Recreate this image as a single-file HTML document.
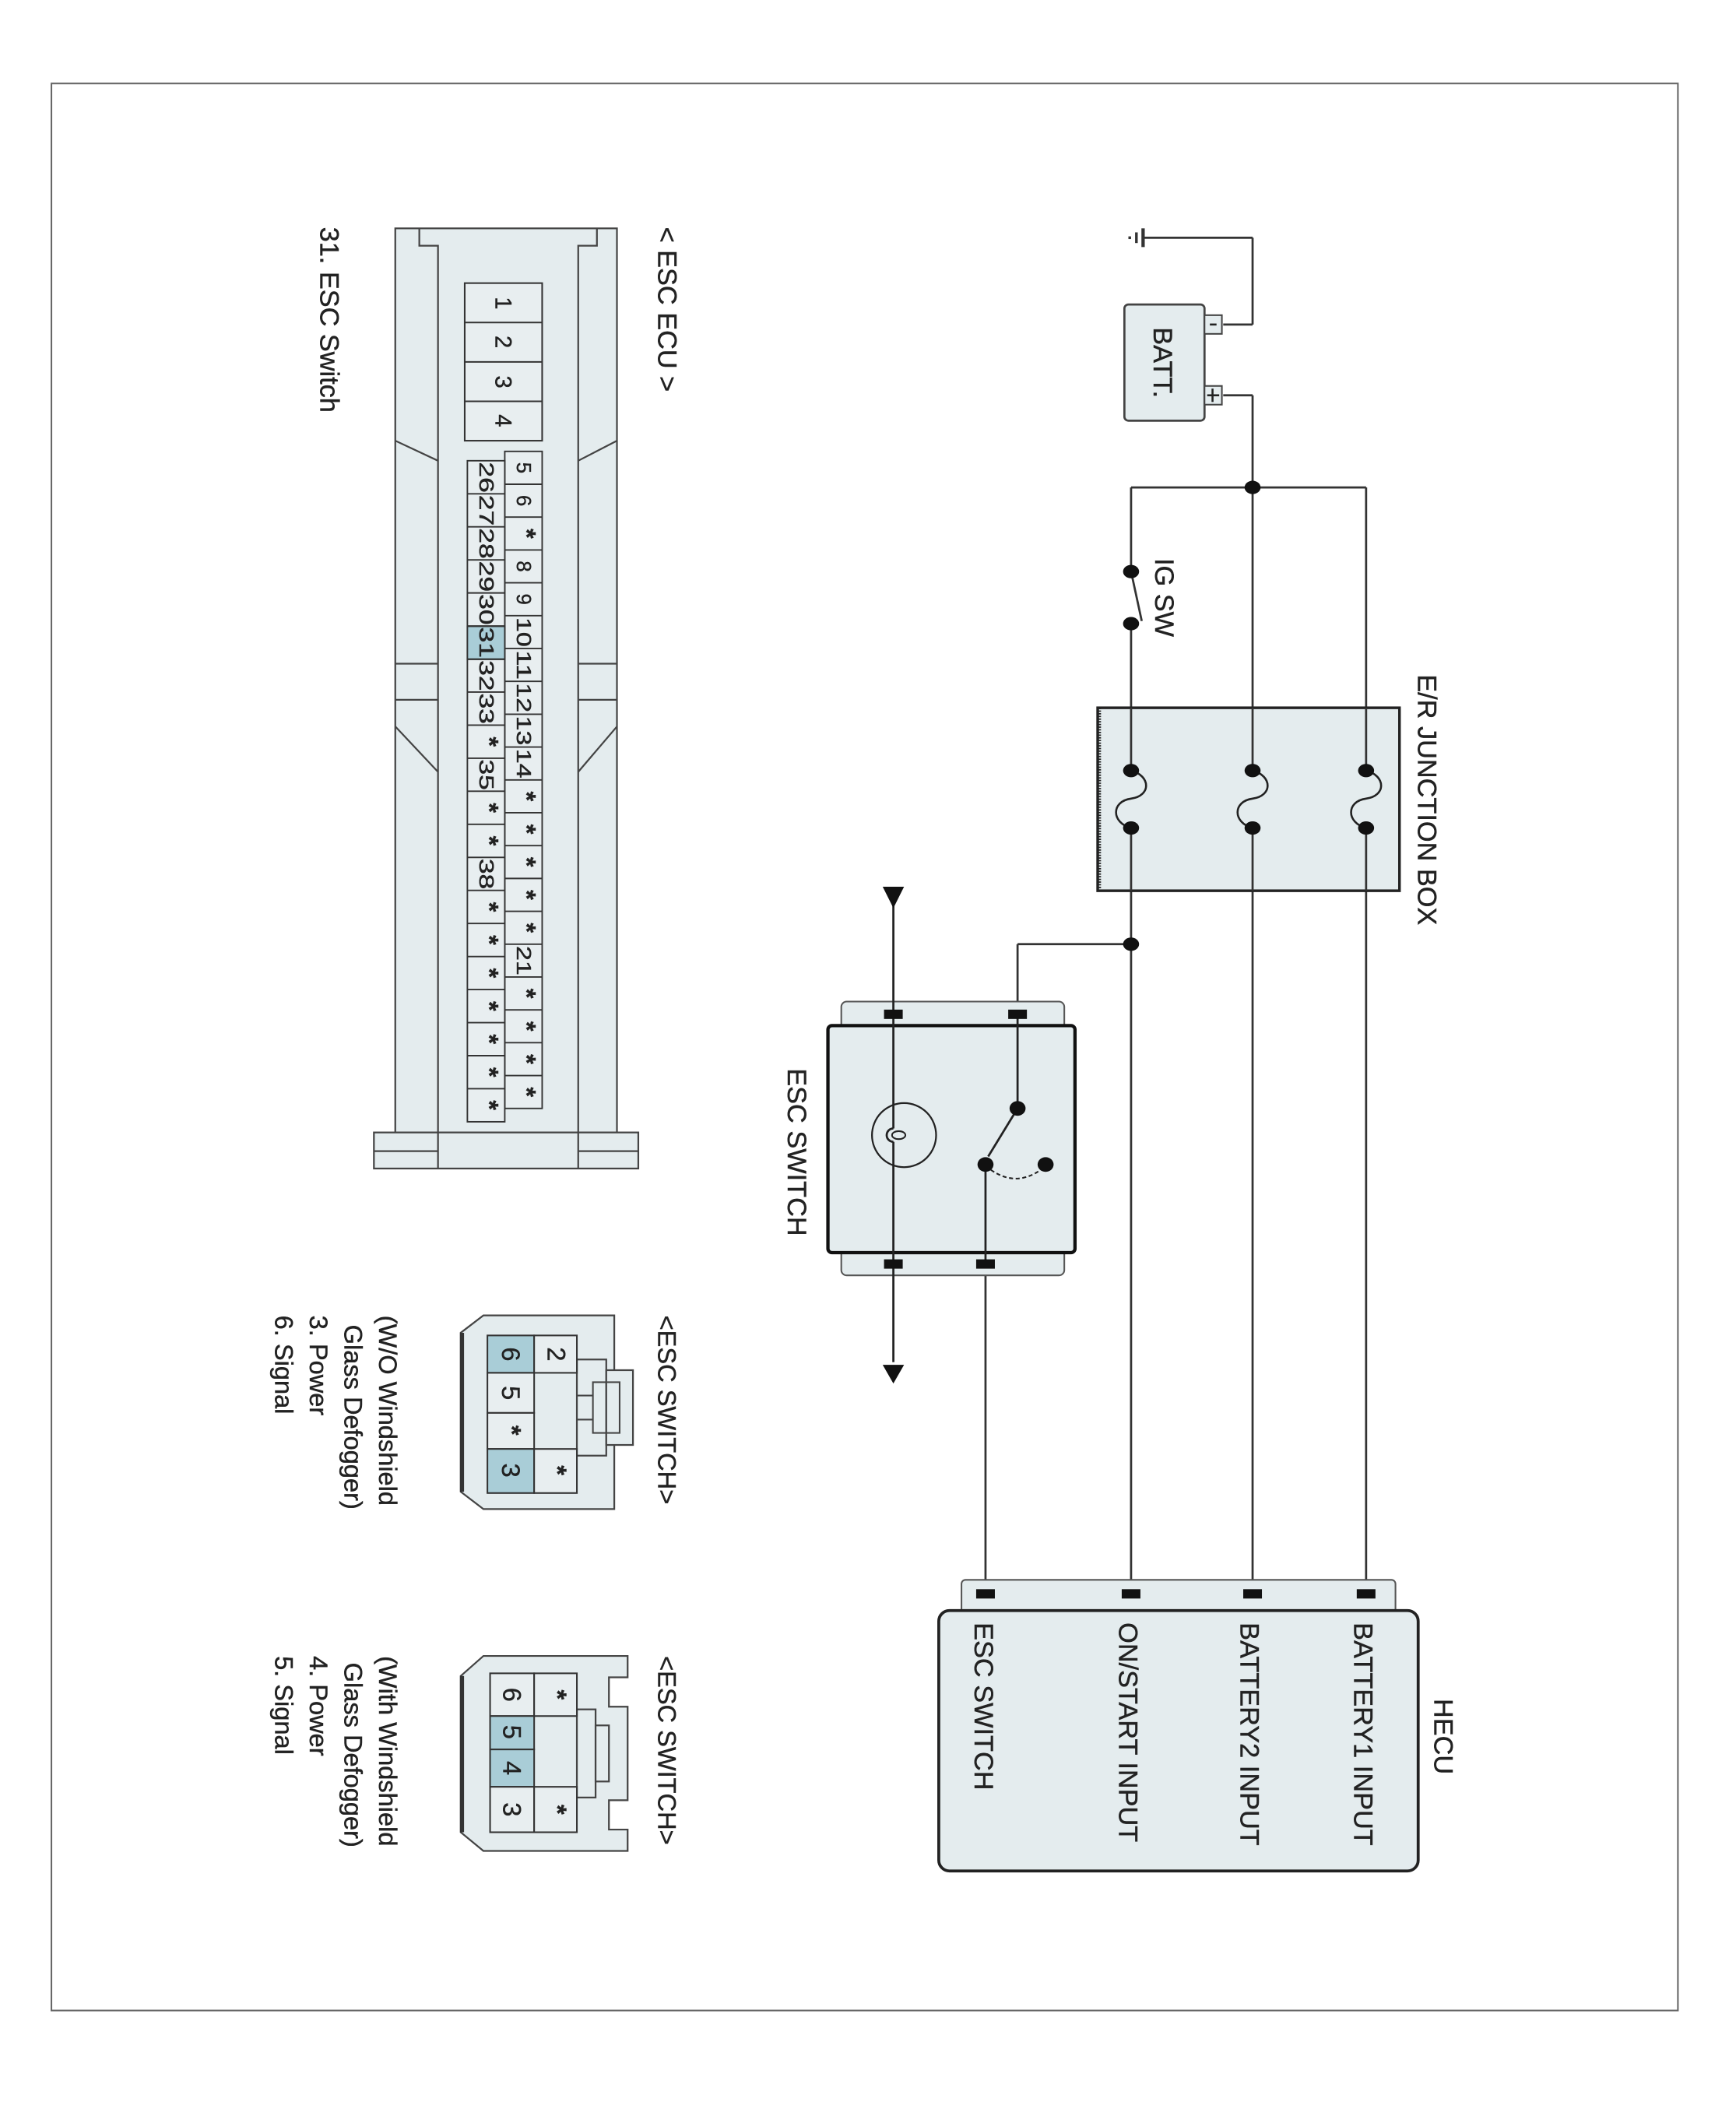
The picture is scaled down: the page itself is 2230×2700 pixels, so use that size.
<!DOCTYPE html>
<html><head><meta charset="utf-8"><style>
html,body{margin:0;padding:0;background:#fff;}
svg{display:block;}
text{font-family:"Liberation Sans",sans-serif;fill:#222;stroke:#222;stroke-width:0.25;}
.st{font-weight:bold;font-size:19px;}
</style></head><body>
<svg width="2230" height="2700" viewBox="0 0 1300 1574" preserveAspectRatio="none" xmlns="http://www.w3.org/2000/svg">
<rect x="0" y="0" width="1300" height="1574" fill="#fff"/>
<rect x="38.5" y="62.5" width="1218" height="1443" fill="none" stroke="#666" stroke-width="1.2"/>

<g stroke="#333" stroke-width="1.6" fill="none">
  <line x1="856" y1="178" x2="938" y2="178"/>
  <line x1="856" y1="171" x2="856" y2="185" stroke-width="2.5"/>
  <line x1="851" y1="174" x2="851" y2="182" stroke-width="2"/>
  <line x1="846" y1="177" x2="846" y2="179" stroke-width="2"/>
  <line x1="938" y1="178" x2="938" y2="243"/>
  <line x1="916" y1="243" x2="938" y2="243"/>
  <line x1="916" y1="296" x2="938" y2="296"/>
  <line x1="938" y1="296" x2="938" y2="1190"/>
  <line x1="847" y1="365" x2="1023" y2="365"/>
  <line x1="847" y1="365" x2="847" y2="428"/>
  <line x1="847" y1="428" x2="855" y2="465"/>
  <line x1="847" y1="467" x2="847" y2="1190"/>
  <line x1="1023" y1="365" x2="1023" y2="1190"/>
  <line x1="762" y1="707" x2="847" y2="707"/>
  <line x1="762" y1="707" x2="762" y2="759"/>
  <line x1="738" y1="946" x2="738" y2="1190"/>
</g>

<rect x="842" y="228" width="60" height="87" rx="3" fill="#e4ecee" stroke="#444" stroke-width="1.6"/>
<rect x="902" y="236" width="13" height="14" fill="#e4ecee" stroke="#444" stroke-width="1.2"/>
<rect x="902" y="289" width="13" height="14" fill="#e4ecee" stroke="#444" stroke-width="1.2"/>
<line x1="906" y1="243" x2="911" y2="243" stroke="#222" stroke-width="1.5"/>
<line x1="904" y1="296" x2="913" y2="296" stroke="#222" stroke-width="1.5"/>
<line x1="908" y1="291" x2="908" y2="301" stroke="#222" stroke-width="1.5"/>
<text transform="translate(864,245) rotate(90)" font-size="20">BATT.</text>

<g fill="#111">
  <ellipse cx="938" cy="365" rx="6" ry="5"/>
  <ellipse cx="847" cy="428" rx="6" ry="5"/>
  <ellipse cx="847" cy="467" rx="6" ry="5"/>
  <ellipse cx="847" cy="707" rx="6" ry="5"/>
</g>
<text transform="translate(865,418) rotate(90)" font-size="20">IG SW</text>

<rect x="822" y="530" width="226" height="137" fill="#e4ecee" stroke="#222" stroke-width="2"/>
<line x1="823" y1="530" x2="823" y2="667" stroke="#222" stroke-width="3" stroke-dasharray="1 1"/>
<g stroke="#333" stroke-width="1.6" fill="none">
  <line x1="847" y1="530" x2="847" y2="667"/>
  <line x1="938" y1="530" x2="938" y2="667"/>
  <line x1="1023" y1="530" x2="1023" y2="667"/>
</g>
<g fill="#e4ecee" stroke="#e4ecee" stroke-width="3">
  <line x1="847" y1="580" x2="847" y2="617"/>
  <line x1="938" y1="580" x2="938" y2="617"/>
  <line x1="1023" y1="580" x2="1023" y2="617"/>
</g>
<g stroke="#222" stroke-width="1.5" fill="none">
  <path d="M847,577 C862,581 862,596 847,598 C832,600 832,616 847,620"/>
  <path d="M938,577 C953,581 953,596 938,598 C923,600 923,616 938,620"/>
  <path d="M1023,577 C1038,581 1038,596 1023,598 C1008,600 1008,616 1023,620"/>
</g>
<g fill="#111">
  <ellipse cx="847" cy="577" rx="6" ry="5"/><ellipse cx="847" cy="620" rx="6" ry="5"/>
  <ellipse cx="938" cy="577" rx="6" ry="5"/><ellipse cx="938" cy="620" rx="6" ry="5"/>
  <ellipse cx="1023" cy="577" rx="6" ry="5"/><ellipse cx="1023" cy="620" rx="6" ry="5"/>
</g>
<text transform="translate(1062,505) rotate(90)" font-size="20">E/R JUNCTION BOX</text>

<rect x="630" y="750" width="167" height="205" rx="4" fill="#e4ecee" stroke="#555" stroke-width="1.2"/>
<rect x="620" y="768" width="185" height="170" rx="3" fill="#e4ecee" stroke="#111" stroke-width="2.5"/>
<g stroke="#222" stroke-width="1.6" fill="none">
  <line x1="669" y1="678" x2="669" y2="845"/>
  <path d="M669,845 a5,5 0 0 0 0,10"/>
  <line x1="669" y1="855" x2="669" y2="1020"/>
  <ellipse cx="673" cy="850" rx="5" ry="3" stroke-width="1.2"/>
  <circle cx="677" cy="850" r="24" stroke-width="1.3"/>
  <line x1="762" y1="759" x2="762" y2="830"/>
  <line x1="762" y1="830" x2="740" y2="866"/>
  <line x1="738" y1="872" x2="738" y2="946"/>
  <path d="M742,876 Q762,890 782,874" stroke-dasharray="3 2" stroke-width="1.2"/>
</g>
<g fill="#111">
  <rect x="662" y="756" width="14" height="7"/>
  <rect x="755" y="756" width="14" height="7"/>
  <rect x="662" y="943" width="14" height="7"/>
  <rect x="731" y="943" width="14" height="7"/>
  <ellipse cx="762" cy="830" rx="6" ry="5.5"/>
  <ellipse cx="738" cy="872" rx="6" ry="5.5"/>
  <ellipse cx="783" cy="872" rx="6" ry="5.5"/>
  <polygon points="661,664 677,664 669,680"/>
  <polygon points="661,1022 677,1022 669,1036"/>
</g>
<text transform="translate(590,800) rotate(90)" font-size="20">ESC SWITCH</text>

<rect x="720" y="1183" width="325" height="26" rx="3" fill="#e4ecee" stroke="#555" stroke-width="1.2"/>
<rect x="703" y="1206" width="359" height="195" rx="8" fill="#e4ecee" stroke="#222" stroke-width="2.2"/>
<g fill="#111">
  <rect x="731" y="1190" width="14" height="7"/>
  <rect x="840" y="1190" width="14" height="7"/>
  <rect x="931" y="1190" width="14" height="7"/>
  <rect x="1016" y="1190" width="14" height="7"/>
</g>
<g font-size="20">
  <text transform="translate(1014,1215) rotate(90)">BATTERY1 INPUT</text>
  <text transform="translate(929,1215) rotate(90)">BATTERY2 INPUT</text>
  <text transform="translate(838,1215) rotate(90)">ON/START INPUT</text>
  <text transform="translate(730,1215) rotate(90)">ESC SWITCH</text>
  <text transform="translate(1074,1272) rotate(90)">HECU</text>
</g>

<g stroke="#444" stroke-width="1.3" fill="#e4ecee">
  <rect x="296" y="171" width="166" height="677"/>
  <rect x="280" y="848" width="198" height="27"/>
</g>
<g stroke="#444" stroke-width="1.3" fill="none">
  <path d="M314,171 L314,184 L328,184 L328,875"/>
  <path d="M447,171 L447,184 L433,184 L433,875"/>
  <line x1="296" y1="330" x2="328" y2="345"/>
  <line x1="462" y1="330" x2="433" y2="345"/>
  <line x1="296" y1="497" x2="328" y2="497"/>
  <line x1="433" y1="497" x2="462" y2="497"/>
  <line x1="296" y1="524" x2="328" y2="524"/>
  <line x1="433" y1="524" x2="462" y2="524"/>
  <line x1="296" y1="544" x2="328" y2="578"/>
  <line x1="462" y1="544" x2="433" y2="578"/>
  <line x1="280" y1="862" x2="328" y2="862"/>
  <line x1="433" y1="862" x2="478" y2="862"/>
</g>
<g stroke="#333" stroke-width="1.2" fill="#e8eef0">
  <rect x="348" y="212" width="58" height="118"/>
  <line x1="348" y1="241.5" x2="406" y2="241.5"/>
  <line x1="348" y1="271" x2="406" y2="271"/>
  <line x1="348" y1="300.5" x2="406" y2="300.5"/>
</g>
<g font-size="17" text-anchor="middle">
  <text transform="translate(371,227) rotate(90)">1</text>
  <text transform="translate(371,256) rotate(90)">2</text>
  <text transform="translate(371,286) rotate(90)">3</text>
  <text transform="translate(371,315) rotate(90)">4</text>
</g>

<g stroke="#444" stroke-width="1.3" fill="#e4ecee">
  <polygon points="345,998 362,985 460,985 460,1130 362,1130 345,1117"/>
  <rect x="432" y="1018" width="22" height="72"/>
  <rect x="454" y="1026" width="20" height="56"/>
</g>
<line x1="346" y1="998" x2="346" y2="1117" stroke="#333" stroke-width="3"/>
<g stroke="#444" stroke-width="1.2" fill="none">
  <rect x="444" y="1035" width="20" height="38"/>
  <line x1="432" y1="1045" x2="444" y2="1045"/><line x1="432" y1="1063" x2="444" y2="1063"/>
</g>
<g stroke="#333" stroke-width="1.2">
  <rect x="365" y="1000" width="35" height="28" fill="#a9cdd7"/>
  <rect x="365" y="1028" width="35" height="30" fill="#e8eef0"/>
  <rect x="365" y="1058" width="35" height="27" fill="#e8eef0"/>
  <rect x="365" y="1085" width="35" height="33" fill="#a9cdd7"/>
  <rect x="400" y="1000" width="32" height="28" fill="#e8eef0"/>
  <rect x="400" y="1085" width="32" height="33" fill="#e8eef0"/>
</g>
<g font-size="19" text-anchor="middle">
  <text transform="translate(376,1014) rotate(90)">6</text>
  <text transform="translate(376,1043) rotate(90)">5</text>
  <text class="st" transform="translate(377,1071) rotate(90)" font-size="22">*</text>
  <text transform="translate(376,1101) rotate(90)">3</text>
  <text transform="translate(410,1014) rotate(90)">2</text>
  <text class="st" transform="translate(411,1101) rotate(90)" font-size="22">*</text>
</g>
<g font-size="19">
  <text transform="translate(493,985) rotate(90)">&lt;ESC SWITCH&gt;</text>
  <text transform="translate(284,985) rotate(90)">(W/O Windshield</text>
  <text transform="translate(258,992) rotate(90)">Glass Defogger)</text>
  <text transform="translate(232,985) rotate(90)">3. Power</text>
  <text transform="translate(206,985) rotate(90)">6. Signal</text>
</g>

<g stroke="#444" stroke-width="1.3" fill="#e4ecee">
  <path d="M345,1255 L362,1240 L470,1240 L470,1256 L456,1256 L456,1278 L470,1278 L470,1348 L456,1348 L456,1370 L470,1370 L470,1386 L362,1386 L345,1372 Z"/>
  <rect x="432" y="1280" width="14" height="66"/>
  <rect x="446" y="1292" width="10" height="42"/>
</g>
<line x1="346" y1="1255" x2="346" y2="1372" stroke="#333" stroke-width="3"/>
<g stroke="#333" stroke-width="1.2">
  <rect x="367" y="1253" width="33" height="32" fill="#e8eef0"/>
  <rect x="367" y="1285" width="33" height="25" fill="#a9cdd7"/>
  <rect x="367" y="1310" width="33" height="28" fill="#a9cdd7"/>
  <rect x="367" y="1338" width="33" height="34" fill="#e8eef0"/>
  <rect x="400" y="1253" width="32" height="32" fill="#e8eef0"/>
  <rect x="400" y="1338" width="32" height="34" fill="#e8eef0"/>
</g>
<g font-size="19" text-anchor="middle">
  <text transform="translate(377,1269) rotate(90)">6</text>
  <text transform="translate(377,1297) rotate(90)">5</text>
  <text transform="translate(377,1324) rotate(90)">4</text>
  <text transform="translate(377,1355) rotate(90)">3</text>
  <text class="st" transform="translate(411,1269) rotate(90)" font-size="22">*</text>
  <text class="st" transform="translate(411,1355) rotate(90)" font-size="22">*</text>
</g>
<g font-size="19">
  <text transform="translate(493,1240) rotate(90)">&lt;ESC SWITCH&gt;</text>
  <text transform="translate(284,1240) rotate(90)">(With Windshield</text>
  <text transform="translate(258,1245) rotate(90)">Glass Defogger)</text>
  <text transform="translate(232,1240) rotate(90)">4. Power</text>
  <text transform="translate(206,1240) rotate(90)">5. Signal</text>
</g>

<text transform="translate(493,170) rotate(90)" font-size="20">&lt; ESC ECU &gt;</text>
<text transform="translate(240,170) rotate(90)" font-size="20">31. ESC Switch</text>

<g stroke="#333" stroke-width="1.1">
  <rect x="378" y="338" width="28" height="492" fill="#e8eef0"/>
  <rect x="350" y="345" width="28" height="495" fill="#e8eef0"/>
  <rect x="350" y="469" width="28" height="24.75" fill="#a9cdd7"/>
</g>
<g stroke="#333" stroke-width="1.1">
  <line x1="378" y1="362.6" x2="406" y2="362.6"/><line x1="378" y1="387.2" x2="406" y2="387.2"/>
  <line x1="378" y1="411.8" x2="406" y2="411.8"/><line x1="378" y1="436.4" x2="406" y2="436.4"/>
  <line x1="378" y1="461" x2="406" y2="461"/><line x1="378" y1="485.6" x2="406" y2="485.6"/>
  <line x1="378" y1="510.2" x2="406" y2="510.2"/><line x1="378" y1="534.8" x2="406" y2="534.8"/>
  <line x1="378" y1="559.4" x2="406" y2="559.4"/><line x1="378" y1="584" x2="406" y2="584"/>
  <line x1="378" y1="608.6" x2="406" y2="608.6"/><line x1="378" y1="633.2" x2="406" y2="633.2"/>
  <line x1="378" y1="657.8" x2="406" y2="657.8"/><line x1="378" y1="682.4" x2="406" y2="682.4"/>
  <line x1="378" y1="707" x2="406" y2="707"/><line x1="378" y1="731.6" x2="406" y2="731.6"/>
  <line x1="378" y1="756.2" x2="406" y2="756.2"/><line x1="378" y1="780.8" x2="406" y2="780.8"/>
  <line x1="378" y1="805.4" x2="406" y2="805.4"/>
  <line x1="350" y1="369.75" x2="378" y2="369.75"/><line x1="350" y1="394.5" x2="378" y2="394.5"/>
  <line x1="350" y1="419.25" x2="378" y2="419.25"/><line x1="350" y1="444" x2="378" y2="444"/>
  <line x1="350" y1="468.75" x2="378" y2="468.75"/><line x1="350" y1="493.5" x2="378" y2="493.5"/>
  <line x1="350" y1="518.25" x2="378" y2="518.25"/><line x1="350" y1="543" x2="378" y2="543"/>
  <line x1="350" y1="567.75" x2="378" y2="567.75"/><line x1="350" y1="592.5" x2="378" y2="592.5"/>
  <line x1="350" y1="617.25" x2="378" y2="617.25"/><line x1="350" y1="642" x2="378" y2="642"/>
  <line x1="350" y1="666.75" x2="378" y2="666.75"/><line x1="350" y1="691.5" x2="378" y2="691.5"/>
  <line x1="350" y1="716.25" x2="378" y2="716.25"/><line x1="350" y1="741" x2="378" y2="741"/>
  <line x1="350" y1="765.75" x2="378" y2="765.75"/><line x1="350" y1="790.5" x2="378" y2="790.5"/>
  <line x1="350" y1="815.25" x2="378" y2="815.25"/>
</g>
<g font-size="15" text-anchor="middle">
  <text transform="translate(387,350.3) rotate(90)">5</text>
  <text transform="translate(387,374.9) rotate(90)">6</text>
  <text class="st" transform="translate(388,399.5) rotate(90)">*</text>
  <text transform="translate(387,424.1) rotate(90)">8</text>
  <text transform="translate(387,448.7) rotate(90)">9</text>
  <text transform="translate(387,473.3) rotate(90)" textLength="22" lengthAdjust="spacingAndGlyphs">10</text>
  <text transform="translate(387,497.9) rotate(90)" textLength="22" lengthAdjust="spacingAndGlyphs">11</text>
  <text transform="translate(387,522.5) rotate(90)" textLength="22" lengthAdjust="spacingAndGlyphs">12</text>
  <text transform="translate(387,547.1) rotate(90)" textLength="22" lengthAdjust="spacingAndGlyphs">13</text>
  <text transform="translate(387,571.7) rotate(90)" textLength="22" lengthAdjust="spacingAndGlyphs">14</text>
  <text class="st" transform="translate(388,596.3) rotate(90)">*</text>
  <text class="st" transform="translate(388,620.9) rotate(90)">*</text>
  <text class="st" transform="translate(388,645.5) rotate(90)">*</text>
  <text class="st" transform="translate(388,670.1) rotate(90)">*</text>
  <text class="st" transform="translate(388,694.7) rotate(90)">*</text>
  <text transform="translate(387,719.3) rotate(90)" textLength="22" lengthAdjust="spacingAndGlyphs">21</text>
  <text class="st" transform="translate(388,743.9) rotate(90)">*</text>
  <text class="st" transform="translate(388,768.5) rotate(90)">*</text>
  <text class="st" transform="translate(388,793.1) rotate(90)">*</text>
  <text class="st" transform="translate(388,817.7) rotate(90)">*</text>

  <text transform="translate(359,357.4) rotate(90)" textLength="23" lengthAdjust="spacingAndGlyphs">26</text>
  <text transform="translate(359,382.1) rotate(90)" textLength="23" lengthAdjust="spacingAndGlyphs">27</text>
  <text transform="translate(359,406.9) rotate(90)" textLength="23" lengthAdjust="spacingAndGlyphs">28</text>
  <text transform="translate(359,431.6) rotate(90)" textLength="23" lengthAdjust="spacingAndGlyphs">29</text>
  <text transform="translate(359,456.4) rotate(90)" textLength="23" lengthAdjust="spacingAndGlyphs">30</text>
  <text transform="translate(359,481.1) rotate(90)" textLength="23" lengthAdjust="spacingAndGlyphs">31</text>
  <text transform="translate(359,505.9) rotate(90)" textLength="23" lengthAdjust="spacingAndGlyphs">32</text>
  <text transform="translate(359,530.6) rotate(90)" textLength="23" lengthAdjust="spacingAndGlyphs">33</text>
  <text class="st" transform="translate(360,555.4) rotate(90)">*</text>
  <text transform="translate(359,580.1) rotate(90)" textLength="23" lengthAdjust="spacingAndGlyphs">35</text>
  <text class="st" transform="translate(360,604.9) rotate(90)">*</text>
  <text class="st" transform="translate(360,629.6) rotate(90)">*</text>
  <text transform="translate(359,654.4) rotate(90)" textLength="23" lengthAdjust="spacingAndGlyphs">38</text>
  <text class="st" transform="translate(360,679.1) rotate(90)">*</text>
  <text class="st" transform="translate(360,703.9) rotate(90)">*</text>
  <text class="st" transform="translate(360,728.6) rotate(90)">*</text>
  <text class="st" transform="translate(360,753.4) rotate(90)">*</text>
  <text class="st" transform="translate(360,778.1) rotate(90)">*</text>
  <text class="st" transform="translate(360,802.9) rotate(90)">*</text>
  <text class="st" transform="translate(360,827.6) rotate(90)">*</text>
</g>
</svg>
</body></html>
